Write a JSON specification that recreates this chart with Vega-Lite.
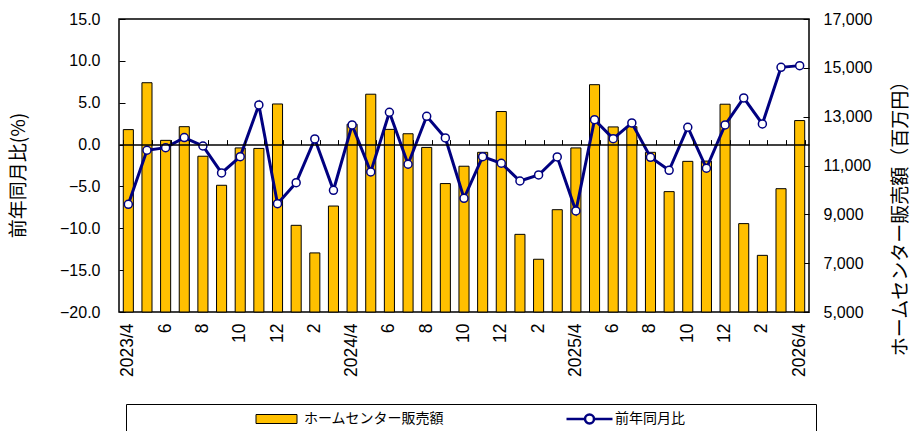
{
  "$schema": "https://vega.github.io/schema/vega-lite/v6.json",
  "width": 690,
  "height": 293,
  "autosize": {"type": "none"},
  "padding": {"left": 119, "top": 19, "right": 102, "bottom": 119},
  "config": {
    "view": {"stroke": "black", "strokeWidth": 1.5},
    "font": "Liberation Sans",
    "axis": {"labelColor": "black", "titleColor": "black", "tickColor": "black", "domainColor": "black", "grid": false}
  },
  "data": {
    "values": [
      {"month": "2023/4", "sales": 12470, "yoy": -7.14},
      {"month": "2023/5", "sales": 14390, "yoy": -0.68},
      {"month": "2023/6", "sales": 12030, "yoy": -0.37},
      {"month": "2023/7", "sales": 12590, "yoy": 0.83},
      {"month": "2023/8", "sales": 11380, "yoy": -0.17},
      {"month": "2023/9", "sales": 10190, "yoy": -3.39},
      {"month": "2023/10", "sales": 11720, "yoy": -1.44},
      {"month": "2023/11", "sales": 11700, "yoy": 4.73},
      {"month": "2023/12", "sales": 13520, "yoy": -7.06},
      {"month": "2024/1", "sales": 8550, "yoy": -4.55},
      {"month": "2024/2", "sales": 7420, "yoy": 0.67},
      {"month": "2024/3", "sales": 9340, "yoy": -5.46},
      {"month": "2024/4", "sales": 12690, "yoy": 2.34},
      {"month": "2024/5", "sales": 13920, "yoy": -3.27},
      {"month": "2024/6", "sales": 12480, "yoy": 3.86},
      {"month": "2024/7", "sales": 12300, "yoy": -2.35},
      {"month": "2024/8", "sales": 11740, "yoy": 3.38},
      {"month": "2024/9", "sales": 10260, "yoy": 0.79},
      {"month": "2024/10", "sales": 10970, "yoy": -6.42},
      {"month": "2024/11", "sales": 11540, "yoy": -1.44},
      {"month": "2024/12", "sales": 13210, "yoy": -2.23},
      {"month": "2025/1", "sales": 8180, "yoy": -4.35},
      {"month": "2025/2", "sales": 7160, "yoy": -3.63},
      {"month": "2025/3", "sales": 9190, "yoy": -1.48},
      {"month": "2025/4", "sales": 11720, "yoy": -7.93},
      {"month": "2025/5", "sales": 14310, "yoy": 2.97},
      {"month": "2025/6", "sales": 12580, "yoy": 0.71},
      {"month": "2025/7", "sales": 12590, "yoy": 2.58},
      {"month": "2025/8", "sales": 11540, "yoy": -1.52},
      {"month": "2025/9", "sales": 9930, "yoy": -3.07},
      {"month": "2025/10", "sales": 11170, "yoy": 2.07},
      {"month": "2025/11", "sales": 11180, "yoy": -2.83},
      {"month": "2025/12", "sales": 13510, "yoy": 2.34},
      {"month": "2026/1", "sales": 8620, "yoy": 5.57},
      {"month": "2026/2", "sales": 7320, "yoy": 2.46},
      {"month": "2026/3", "sales": 10050, "yoy": 9.23},
      {"month": "2026/4", "sales": 12840, "yoy": 9.43}
    ]
  },
  "resolve": {"scale": {"y": "independent"}, "axis": {"x": "independent", "y": "independent"}},
  "layer": [
    {
      "mark": {"type": "bar", "stroke": "black", "strokeWidth": 1},
      "encoding": {
        "x": {
          "field": "month", "type": "ordinal", "sort": null,
          "scale": {"paddingInner": 0.46, "paddingOuter": 0.23},
          "axis": {
            "orient": "bottom", "title": null, "domain": false, "ticks": false,
            "labelAngle": -90, "labelAlign": "right", "labelBaseline": "middle",
            "labelPadding": 11, "labelFontSize": 17.5, "labelFont": "Liberation Sans",
            "labelOverlap": false,
            "labelExpr": "split(datum.value, '/')[1] == '4' ? datum.value : (parseInt(split(datum.value, '/')[1]) % 2 == 0 ? split(datum.value, '/')[1] : '')"
          }
        },
        "y": {
          "field": "sales", "type": "quantitative",
          "scale": {"domain": [5000, 17000], "nice": false, "zero": false},
          "axis": {
            "orient": "right", "values": [5000, 7000, 9000, 11000, 13000, 15000, 17000],
            "format": ",.0f", "domain": false, "tickSize": -6, "labelPadding": 20,
            "labelFontSize": 16, "labelFont": "Liberation Sans",
            "title": "ホームセンター販売額（百万円）", "titleFont": "Noto Sans CJK JP",
            "titleFontSize": 19, "titleFontWeight": "normal", "titleAngle": -90,
            "titleAlign": "center", "titleBaseline": "middle", "titleX": 91, "titleY": 194.5
          }
        },
        "y2": {"datum": 5000},
        "color": {
          "datum": "ホームセンター販売額", "type": "nominal",
          "scale": {"range": ["#FFC000"]},
          "legend": {
            "orient": "none", "legendX": 7, "legendY": 385, "direction": "horizontal",
            "title": " ", "titleOrient": "right", "titlePadding": 364,
            "strokeColor": "black", "padding": 8,
            "symbolType": "M23,-0.9L31.2,-0.9L31.2,0.9L23,0.9Z",
            "symbolSize": 100, "symbolStrokeWidth": 1, "symbolStrokeColor": "black",
            "symbolFillColor": "#FFC000", "symbolOpacity": 1,
            "labelOffset": 156, "labelLimit": 400,
            "labelFont": "Noto Sans CJK JP", "labelFontSize": 14, "labelColor": "black"
          }
        }
      }
    },
    {
      "mark": {
        "type": "line", "strokeWidth": 3,
        "point": {"filled": false, "fill": "white", "size": 64, "strokeWidth": 1.5, "opacity": 1}
      },
      "encoding": {
        "x": {
          "field": "month", "type": "ordinal", "sort": null,
          "axis": {
            "orient": "top", "offset": -125.6, "title": null, "labels": false,
            "domain": true, "domainWidth": 1.5, "ticks": true, "tickSize": 5, "tickWidth": 1,
            "tickBand": "extent", "zindex": 1
          }
        },
        "y": {
          "field": "yoy", "type": "quantitative",
          "scale": {"domain": [-20, 15], "nice": false, "zero": false},
          "axis": {
            "orient": "left", "values": [-20, -15, -10, -5, 0, 5, 10, 15],
            "format": ".1f", "domain": false, "tickSize": -6, "labelPadding": 25,
            "labelFontSize": 16, "labelFont": "Liberation Sans",
            "title": "前年同月比(%)", "titleFont": "Noto Sans CJK JP",
            "titleFontSize": 19, "titleFontWeight": "normal", "titleAngle": -90,
            "titleAlign": "center", "titleBaseline": "middle", "titleX": -100.5, "titleY": 156
          }
        },
        "stroke": {
          "datum": "前年同月比", "type": "nominal",
          "scale": {"range": ["#000080"]},
          "legend": {
            "orient": "none", "legendX": 437.5, "legendY": 385, "direction": "horizontal",
            "title": null, "padding": 8,
            "symbolType": "M-1,0L2.7,0M4.5,0L8.2,0M2.7,0A0.9,0.9 0 1,1 4.5,0A0.9,0.9 0 1,1 2.7,0Z",
            "symbolSize": 100, "symbolStrokeWidth": 2.5, "symbolStrokeColor": "#000080",
            "symbolFillColor": "white", "symbolOpacity": 1,
            "labelOffset": 36.5, "labelLimit": 400,
            "labelFont": "Noto Sans CJK JP", "labelFontSize": 14, "labelColor": "black"
          }
        }
      }
    }
  ]
}
